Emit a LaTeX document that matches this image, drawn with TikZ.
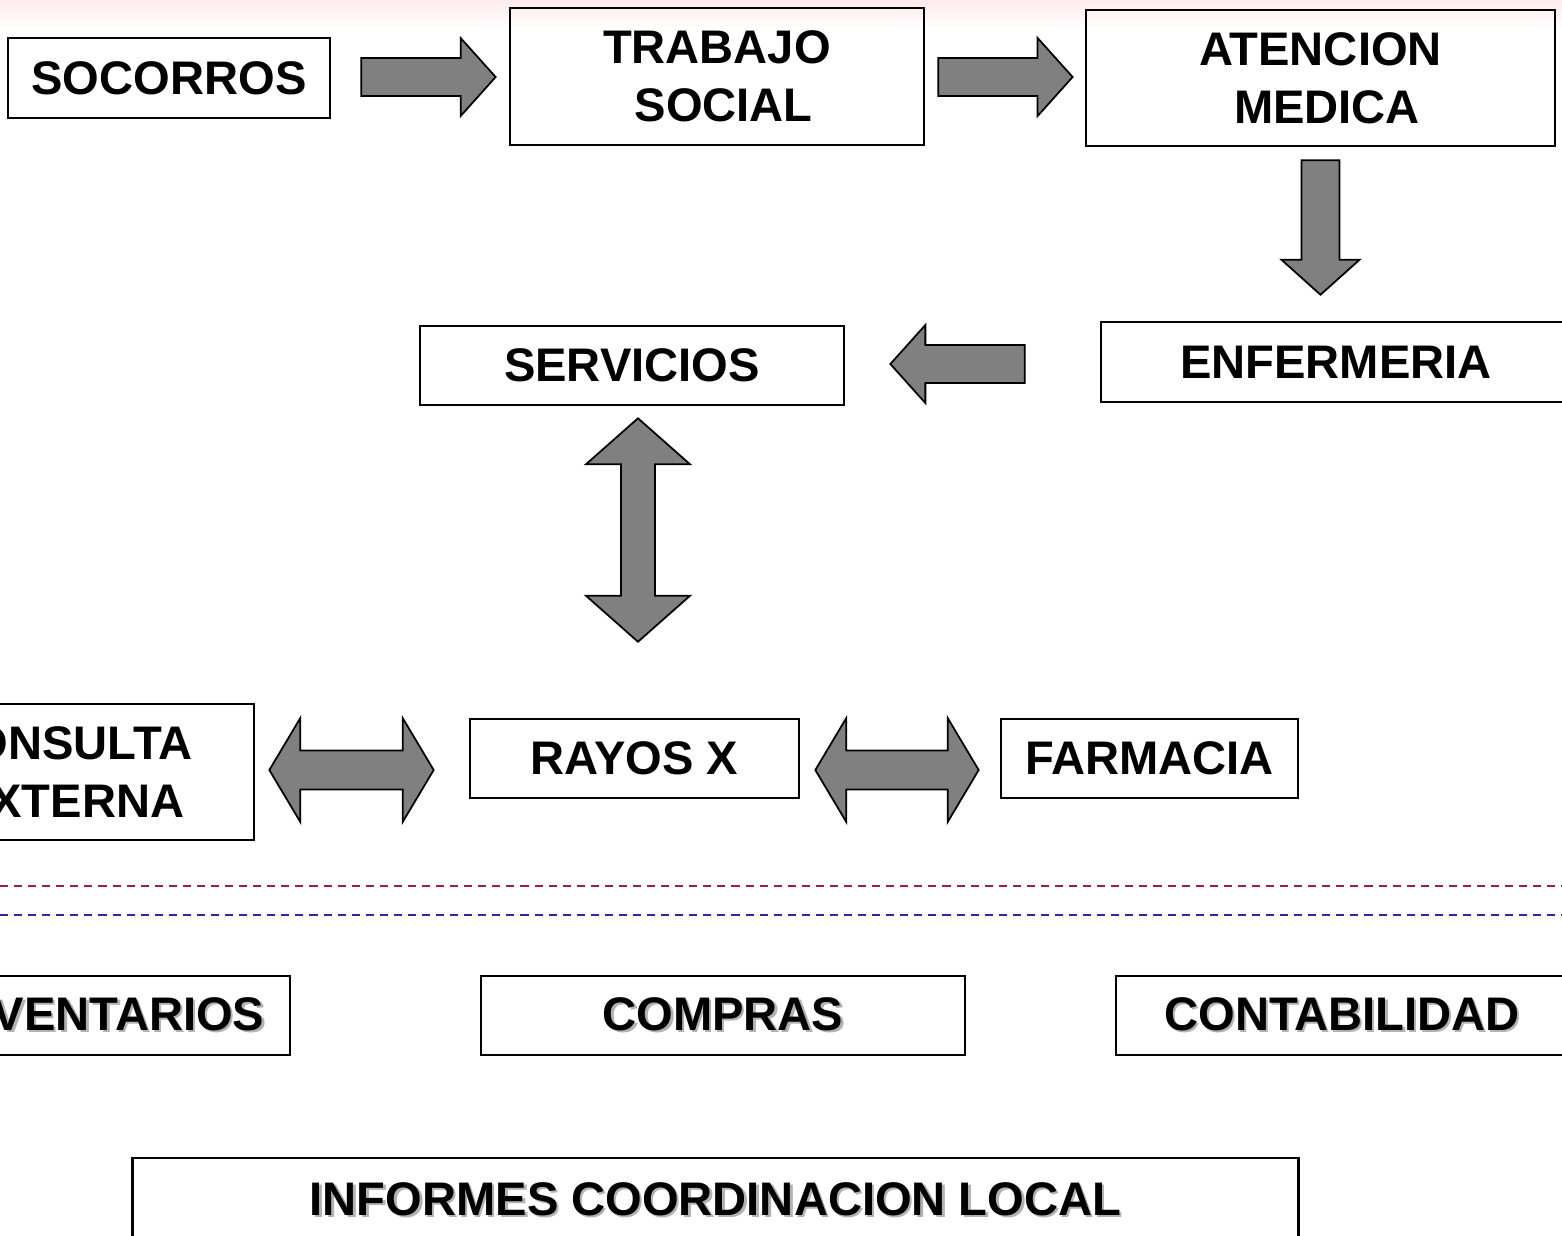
\documentclass[tikz,border=0pt]{standalone}
\usepackage{fontspec}
\setmainfont{Liberation Sans}
\usetikzlibrary{calc,positioning}

\definecolor{linearoja}{RGB}{165,25,75}
\definecolor{lineaazul}{RGB}{40,40,175}

% texto con sombra
\newcommand{\sombra}[1]{\makebox[0pt][l]{\hspace{0.7pt}\raisebox{-0.7pt}{\color{black!30}#1}}#1}

% flecha gruesa: cola, punta
\newcommand{\flecha}[2]{%
  \coordinate (fb) at ($(#2)!0.35cm!(#1)$);
  \draw[bloque] ($(#1)!0.19cm!90:(#2)$) -- ($(fb)!0.19cm!90:(#2)$) -- ($(fb)!0.39cm!90:(#2)$) -- (#2)
    -- ($(fb)!0.39cm!-90:(#2)$) -- ($(fb)!0.19cm!-90:(#2)$) -- ($(#1)!0.19cm!-90:(#2)$) -- cycle;}

% flecha doble: ancho cuerpo, ancho punta, largo punta, extremo, extremo
\newcommand{\flechadoble}[5]{%
  \coordinate (fa) at ($(#4)!#3!(#5)$);
  \coordinate (fb) at ($(#5)!#3!(#4)$);
  \draw[bloque] (#4) -- ($(fa)!#2!90:(#5)$) -- ($(fa)!#1!90:(#5)$) -- ($(fb)!#1!90:(#5)$) -- ($(fb)!#2!90:(#5)$) -- (#5)
    -- ($(fb)!#2!-90:(#5)$) -- ($(fb)!#1!-90:(#5)$) -- ($(fa)!#1!-90:(#5)$) -- ($(fa)!#2!-90:(#5)$) -- cycle;}

\begin{document}
\begin{tikzpicture}[x=0.01cm,y=-0.01cm,
    caja/.style={draw, line width=0.7pt, inner sep=0pt, align=center,
        font=\bfseries\fontsize{13.4}{16.5}\selectfont},
    bloque/.style={draw, fill=black!50, line width=0.5pt, line join=miter},
    corte/.style={dash pattern=on 2.3pt off 1.7pt, line width=0.75pt}]
    \useasboundingbox (0,0) rectangle (1562,1235);
    \clip (0,0) rectangle (1562,1235);
    \shade[top color=red!8, bottom color=white] (0,0) rectangle (1562,30);

    % fila de arriba
    \node[caja, minimum width=3.22cm, minimum height=0.80cm] (soc) at (169,78) {SOCORROS};
    \node[caja, minimum width=4.14cm, minimum height=1.37cm] (trab) at (717,76.5) {TRABAJO\\\hspace*{.28em}SOCIAL};
    \node[caja, minimum width=4.69cm, minimum height=1.36cm] (aten) at (1320.5,78) {ATENCION\\\hspace*{.28em}MEDICA};

    % segunda fila
    \node[caja, minimum width=4.70cm, minimum height=0.80cm] (enf) at (1336,362) {ENFERMERIA};
    \node[caja, minimum width=4.24cm, minimum height=0.79cm] (serv) at (632,365.5) {SERVICIOS};

    % tercera fila
    \node[caja, minimum width=3.78cm, minimum height=1.36cm] (cons) at (65,772) {CONSULTA\\\hspace*{.28em}EXTERNA};
    \node[caja, minimum width=3.29cm, minimum height=0.79cm] (rayos) at (634.5,758.5) {RAYOS X};
    \node[caja, minimum width=2.97cm, minimum height=0.79cm] (farm) at (1149.5,758.5) {FARMACIA};

    % lineas de corte
    \coordinate (rojoa) at (0,886);
    \coordinate (rojob) at (1562,886);
    \coordinate (azula) at (0,915);
    \coordinate (azulb) at (1562,915);
    \draw[corte, linearoja] (rojoa) -- (rojob);
    \draw[corte, lineaazul] (azula) -- (azulb);

    % parte administrativa
    \node[caja, minimum width=3.70cm, minimum height=0.79cm] (inv) at (105,1015.5) {\sombra{INVENTARIOS}};
    \node[caja, minimum width=4.84cm, minimum height=0.79cm] (comp) at (723,1015.5) {\sombra{COMPRAS}};
    \node[caja, minimum width=4.52cm, minimum height=0.79cm] (cont) at (1342,1015.5) {\sombra{CONTABILIDAD}};
    \node[caja, minimum width=11.65cm, minimum height=0.84cm] (inf) at (715.5,1200) {\sombra{INFORMES COORDINACION LOCAL}};

    % flechas
    \coordinate (f1a) at ($(soc.east)+(30,-1)$);
    \coordinate (f1b) at ($(trab.west|-f1a)+(-13,0)$);
    \flecha{f1a}{f1b}
    \coordinate (f2a) at ($(trab.east)+(13,0.5)$);
    \coordinate (f2b) at ($(aten.west|-f2a)+(-12,0)$);
    \flecha{f2a}{f2b}
    \coordinate (f3a) at ($(aten.south)+(0,13)$);
    \coordinate (f3b) at ($(aten.south|-enf.north)+(0,-26)$);
    \flecha{f3a}{f3b}
    \coordinate (f4a) at ($(enf.west)+(-75,2)$);
    \coordinate (f4b) at ($(serv.east|-f4a)+(45,0)$);
    \flecha{f4a}{f4b}
    \coordinate (d1a) at ($(serv.south)+(6,12)$);
    \coordinate (d1b) at ($(rayos.north)+(3.5,-76)$);
    \flechadoble{0.17cm}{0.52cm}{0.46cm}{d1a}{d1b}
    \coordinate (d2a) at ($(cons.east)+(14,-2)$);
    \coordinate (d2b) at ($(rayos.west)+(-35,11.5)$);
    \flechadoble{0.195cm}{0.52cm}{0.31cm}{d2a}{d2b}
    \coordinate (d3a) at ($(rayos.east)+(15,11.5)$);
    \coordinate (d3b) at ($(farm.west)+(-21,11.5)$);
    \flechadoble{0.195cm}{0.52cm}{0.31cm}{d3a}{d3b}
\end{tikzpicture}
\end{document}
